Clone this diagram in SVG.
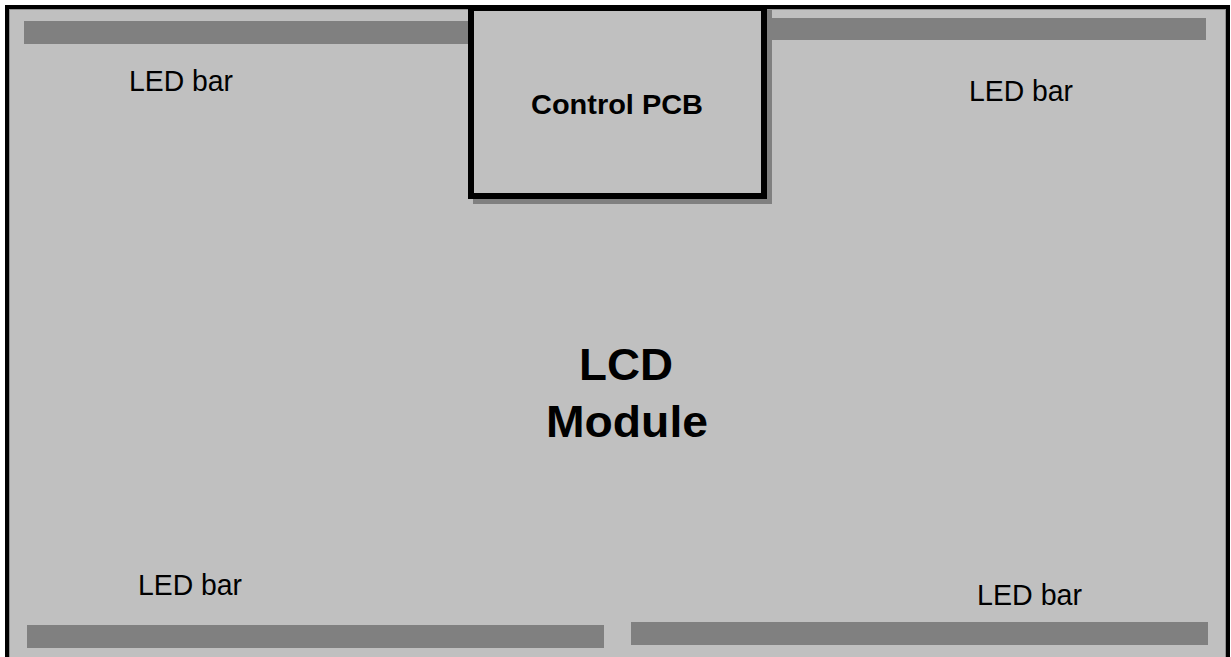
<svg xmlns="http://www.w3.org/2000/svg" width="1231" height="657" viewBox="0 0 1231 657">
<style>
.bar{fill:#808080}
.lbl{font-family:"Liberation Sans",Arial,sans-serif;font-size:29px;fill:#000}
.bold{font-family:"Liberation Sans",Arial,sans-serif;font-weight:bold;fill:#000}
</style>
<rect x="0" y="0" width="1231" height="657" fill="#ffffff"/>
<g id="lcd-module">
<rect x="7" y="7" width="1221" height="700" fill="#c0c0c0" stroke="#000" stroke-width="4"/>
<rect x="9.5" y="9.5" width="1216" height="700" fill="none" stroke="#909090" stroke-width="1"/>
<text class="bold" x="626" y="380" font-size="44" text-anchor="middle" textLength="94" lengthAdjust="spacingAndGlyphs">LCD</text>
<text class="bold" x="627" y="437" font-size="44" text-anchor="middle" textLength="162" lengthAdjust="spacingAndGlyphs">Module</text>
</g>
<g id="led-bar-top-left">
<rect class="bar" x="24" y="21" width="450" height="23"/>
<text class="lbl" x="129" y="91" textLength="104" lengthAdjust="spacingAndGlyphs">LED bar</text>
</g>
<g id="led-bar-top-right">
<rect class="bar" x="762" y="18" width="444" height="22"/>
<text class="lbl" x="969" y="101" textLength="104" lengthAdjust="spacingAndGlyphs">LED bar</text>
</g>
<g id="led-bar-bottom-left">
<rect class="bar" x="27" y="625" width="577" height="23"/>
<text class="lbl" x="138" y="595" textLength="104" lengthAdjust="spacingAndGlyphs">LED bar</text>
</g>
<g id="led-bar-bottom-right">
<rect class="bar" x="631" y="622" width="577" height="23"/>
<text class="lbl" x="977" y="605" textLength="105" lengthAdjust="spacingAndGlyphs">LED bar</text>
</g>
<g id="control-pcb">
<rect x="476" y="13" width="293" height="188" fill="#808080" stroke="#808080" stroke-width="6"/>
<rect x="471" y="8" width="293" height="188" fill="#c0c0c0" stroke="#000" stroke-width="6"/>
<text class="bold" x="617" y="114" font-size="28" text-anchor="middle" textLength="172" lengthAdjust="spacingAndGlyphs">Control PCB</text>
</g>
<g id="connectors"/>
</svg>
